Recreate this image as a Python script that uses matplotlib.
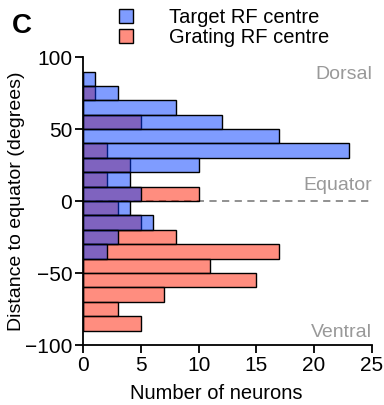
import numpy as np
import matplotlib
matplotlib.use("Agg")
import matplotlib.pyplot as plt

plt.rcParams["font.family"] = ["Liberation Sans", "DejaVu Sans"]

# bin centres (degrees), 10-degree bins from +90 to -90
bin_centres = [85, 75, 65, 55, 45, 35, 25, 15, 5,
               -5, -15, -25, -35, -45, -55, -65, -75, -85]
target_counts = [1, 3, 8, 12, 17, 23, 10, 4, 5,
                 4, 6, 3, 2, 0, 0, 0, 0, 0]
grating_counts = [0, 1, 0, 5, 0, 2, 4, 2, 10,
                  3, 5, 8, 17, 11, 15, 7, 3, 5]
x_ticks = [0, 5, 10, 15, 20, 25]
y_ticks = [-100, -50, 0, 50, 100]

blue = (0.0, 0.23, 1.0, 0.5)
red = (1.0, 0.11, 0.0, 0.5)

fig = plt.figure(figsize=(3.84, 4.05), dpi=100)
ax = fig.add_axes([0.2174, 0.148, 0.7505, 0.711])

ax.axhline(0, color="#888888", ls=(0, (4, 3)), lw=1.3, zorder=0)
ax.barh(bin_centres, grating_counts, height=10, color=red, edgecolor="black",
        lw=1.0, label="Grating RF centre", zorder=2)
ax.barh(bin_centres, target_counts, height=10, color=blue, edgecolor="black",
        lw=1.0, label="Target RF centre", zorder=3)

ax.set_xlim(0, 25)
ax.set_ylim(-100, 100)
ax.set_xticks(x_ticks)
ax.set_yticks(y_ticks)
ax.spines["top"].set_visible(False)
ax.spines["right"].set_visible(False)
for s in ("left", "bottom"):
    ax.spines[s].set_linewidth(1.3)
ax.tick_params(labelsize=15, width=1.3, length=6, pad=2)
ax.set_xlabel("Number of neurons", fontsize=14.5)
ax.xaxis.set_label_coords(0.462, -0.135)
ax.set_ylabel("Distance to equator (degrees)", fontsize=14, labelpad=0)

for txt, yv in (("Dorsal", 88), ("Equator", 11), ("Ventral", -91)):
    ax.text(25.05, yv, txt, ha="right", va="center", color="#999999", fontsize=14)

h, l = ax.get_legend_handles_labels()
fig.legend(h[::-1], l[::-1], loc="upper left", bbox_to_anchor=(0.262, 1.025),
           frameon=False, fontsize=14.5, handlelength=0.7, handleheight=0.7,
           handletextpad=1.8, labelspacing=0.05)
fig.text(0.03, 0.968, "C", fontsize=20, fontweight="bold", va="top")

fig.savefig("out.png", dpi=100)
